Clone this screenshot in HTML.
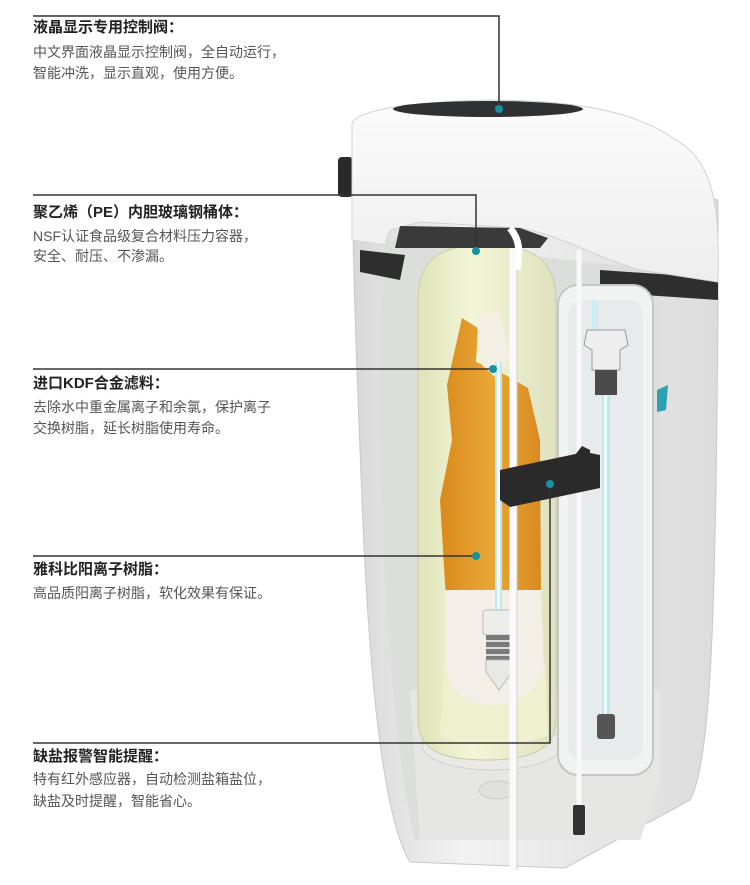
<!DOCTYPE html>
<html><head><meta charset="utf-8"><style>
html,body{margin:0;padding:0;background:#fff;}
body{width:750px;height:885px;position:relative;overflow:hidden;font-family:"Liberation Sans","Noto Sans CJK SC",sans-serif;}
.h{position:absolute;left:33px;font-size:15px;font-weight:bold;color:#222;line-height:17px;white-space:nowrap;}
.t{position:absolute;left:33px;font-size:14px;color:#555;line-height:16px;white-space:nowrap;}
svg{position:absolute;left:0;top:0;}
</style></head><body>
<svg width="750" height="885" viewBox="0 0 750 885">
<defs>
<linearGradient id="bd" x1="0" x2="1"><stop offset="0" stop-color="#d8d8d8"/><stop offset="0.3" stop-color="#f2f2f2"/><stop offset="1" stop-color="#dcdcdc"/></linearGradient>
<linearGradient id="cr" x1="0" x2="1"><stop offset="0" stop-color="#dfe4b8"/><stop offset="0.4" stop-color="#f3f5d8"/><stop offset="1" stop-color="#dfe2bd"/></linearGradient>
<linearGradient id="or" x1="0" x2="1"><stop offset="0" stop-color="#d98a1c"/><stop offset="0.5" stop-color="#eaa735"/><stop offset="1" stop-color="#d88a22"/></linearGradient>
<linearGradient id="cap" x1="0" y1="0" x2="0" y2="1"><stop offset="0" stop-color="#fbfbfb"/><stop offset="1" stop-color="#eeeeee"/></linearGradient>
</defs>
<path d="M352,125 L718,200 L718,300 C716,600 712,760 690,800 L565,868 L410,862 C385,820 370,700 362,500 C356,350 352,250 352,125 Z" fill="url(#bd)" stroke="#c8c8c8"/>
<path d="M385,240 L660,270 L660,780 L640,840 L415,840 C395,760 385,600 380,470 C378,380 380,300 385,240 Z" fill="#dcdedb"/>
<path d="M410,690 L660,690 L660,780 L640,840 L420,840 Z" fill="#e6e7e5"/>
<ellipse cx="492" cy="745" rx="70" ry="25" fill="#e9eae6" stroke="#cfcfcf"/>
<ellipse cx="497" cy="790" rx="18" ry="9" fill="#e0e0de" stroke="#c9c9c9"/>
<path d="M360,250 L405,255 L400,280 L360,272 Z" fill="#2e2e2e"/>
<path d="M600,270 L718,278 L718,300 L600,292 Z" fill="#2e2e2e"/>
<rect x="338" y="157" width="15" height="40" rx="4" fill="#2a2a2a"/>
<rect x="558" y="285" width="95" height="490" rx="20" fill="#f1f3f3" stroke="#c4c6c6" stroke-width="2"/>
<rect x="568" y="300" width="75" height="460" rx="14" fill="#e8ebeb"/>
<path d="M418,300 C418,255 445,245 486,245 C527,245 556,255 556,300 L556,720 C556,750 530,760 486,760 C442,760 418,750 418,720 Z" fill="url(#cr)" stroke="#c9cca8"/>
<path d="M462,318 L478,328 L476,362 L500,372 L528,388 L540,440 L541,600 L446,600 L440,500 L452,440 L447,385 Z" fill="url(#or)"/>
<path d="M476,318 L498,310 L510,355 L498,380 L482,365 Z" fill="#f4efe4"/>
<path d="M445,590 L541,590 L545,700 C540,720 450,720 445,700 Z" fill="#f3efe6"/>
<path d="M445,660 C445,720 540,720 545,660 L548,735 C520,748 460,748 440,735 Z" fill="#eef0cf"/>
<rect x="495" y="362" width="7" height="250" fill="#bfe7ee"/>
<rect x="497" y="362" width="3" height="250" fill="#eefafd"/>
<rect x="483" y="610" width="32" height="25" rx="3" fill="#ededea" stroke="#bbb"/>
<rect x="486" y="635" width="26" height="25" fill="#7a7a7a"/>
<line x1="486" y1="641" x2="512" y2="641" stroke="#ddd" stroke-width="2"/><line x1="486" y1="648" x2="512" y2="648" stroke="#ddd" stroke-width="2"/><line x1="486" y1="655" x2="512" y2="655" stroke="#ddd" stroke-width="2"/>
<path d="M486,660 L512,660 L512,672 L499,690 L486,672 Z" fill="#e8e8e5" stroke="#bbb"/>
<rect x="592" y="300" width="6" height="35" fill="#cdeef3"/>
<path d="M587,330 L625,330 L628,345 L620,350 L620,370 L592,370 L592,350 L584,345 Z" fill="#eeeeee" stroke="#999"/>
<rect x="595" y="370" width="22" height="25" fill="#4a4a4a"/>
<rect x="602" y="395" width="8" height="320" fill="#bfe7ee"/>
<rect x="604" y="395" width="3" height="320" fill="#effbfd"/>
<rect x="597" y="714" width="18" height="25" rx="3" fill="#555"/>
<path d="M513,232 L513,870" stroke="#fafafa" stroke-width="7"/>
<path d="M517,232 L517,870" stroke="#cfcfcf" stroke-width="1" fill="none"/>
<path d="M579,250 L579,828" stroke="#f8f8f8" stroke-width="5"/>
<rect x="573" y="805" width="12" height="30" rx="2" fill="#333"/>
<path d="M352,125 C352,112 400,102 488,100 C600,100 650,118 690,150 C715,175 720,215 718,282 L640,270 C590,255 560,235 520,228 L420,222 L390,230 L385,245 L352,240 Z" fill="url(#cap)" stroke="#d2d2d2"/>
<path d="M400,226 L520,228 L548,238 L540,248 L395,248 Z" fill="#3a3a3a"/>
<path d="M510,228 C520,240 520,250 517,270" stroke="#fff" stroke-width="7" fill="none"/>
<ellipse cx="488" cy="109" rx="95" ry="8" fill="#2f3132"/>
<path d="M500,470 L585,452 L600,455 L600,488 L510,507 L500,500 Z" fill="#2a2a2a"/>
<path d="M575,455 L582,446 L590,450 L590,460 Z" fill="#2a2a2a"/>
<path d="M657,390 L668,385 L666,410 L657,412 Z" fill="#2aa0b0"/>
<g stroke="#333" stroke-width="1.5" fill="none">
<polyline points="33,16 499,16 499,108"/>
<polyline points="33,195 476,195 476,250"/>
<polyline points="33,369 493,369"/>
<polyline points="33,556 476,556"/>
<polyline points="33,743 550,743 550,484"/>
</g>
<g fill="#12939f">
<circle cx="499" cy="109" r="4"/>
<circle cx="476" cy="251" r="4"/>
<circle cx="493" cy="369" r="4"/>
<circle cx="476" cy="556" r="4"/>
<circle cx="550" cy="484" r="4"/>
</g>
</svg>
<div class="h" style="top:19px">液晶显示专用控制阀：</div>
<div class="t" style="top:44px">中文界面液晶显示控制阀，全自动运行，</div>
<div class="t" style="top:65px">智能冲洗，显示直观，使用方便。</div>
<div class="h" style="top:204px">聚乙烯（PE）内胆玻璃钢桶体：</div>
<div class="t" style="top:228px">NSF认证食品级复合材料压力容器，</div>
<div class="t" style="top:248px">安全、耐压、不渗漏。</div>
<div class="h" style="top:375px">进口KDF合金滤料：</div>
<div class="t" style="top:399px">去除水中重金属离子和余氯，保护离子</div>
<div class="t" style="top:420px">交换树脂，延长树脂使用寿命。</div>
<div class="h" style="top:561px">雅科比阳离子树脂：</div>
<div class="t" style="top:585px">高品质阳离子树脂，软化效果有保证。</div>
<div class="h" style="top:748px">缺盐报警智能提醒：</div>
<div class="t" style="top:771px">特有红外感应器，自动检测盐箱盐位，</div>
<div class="t" style="top:793px">缺盐及时提醒，智能省心。</div>
</body></html>
